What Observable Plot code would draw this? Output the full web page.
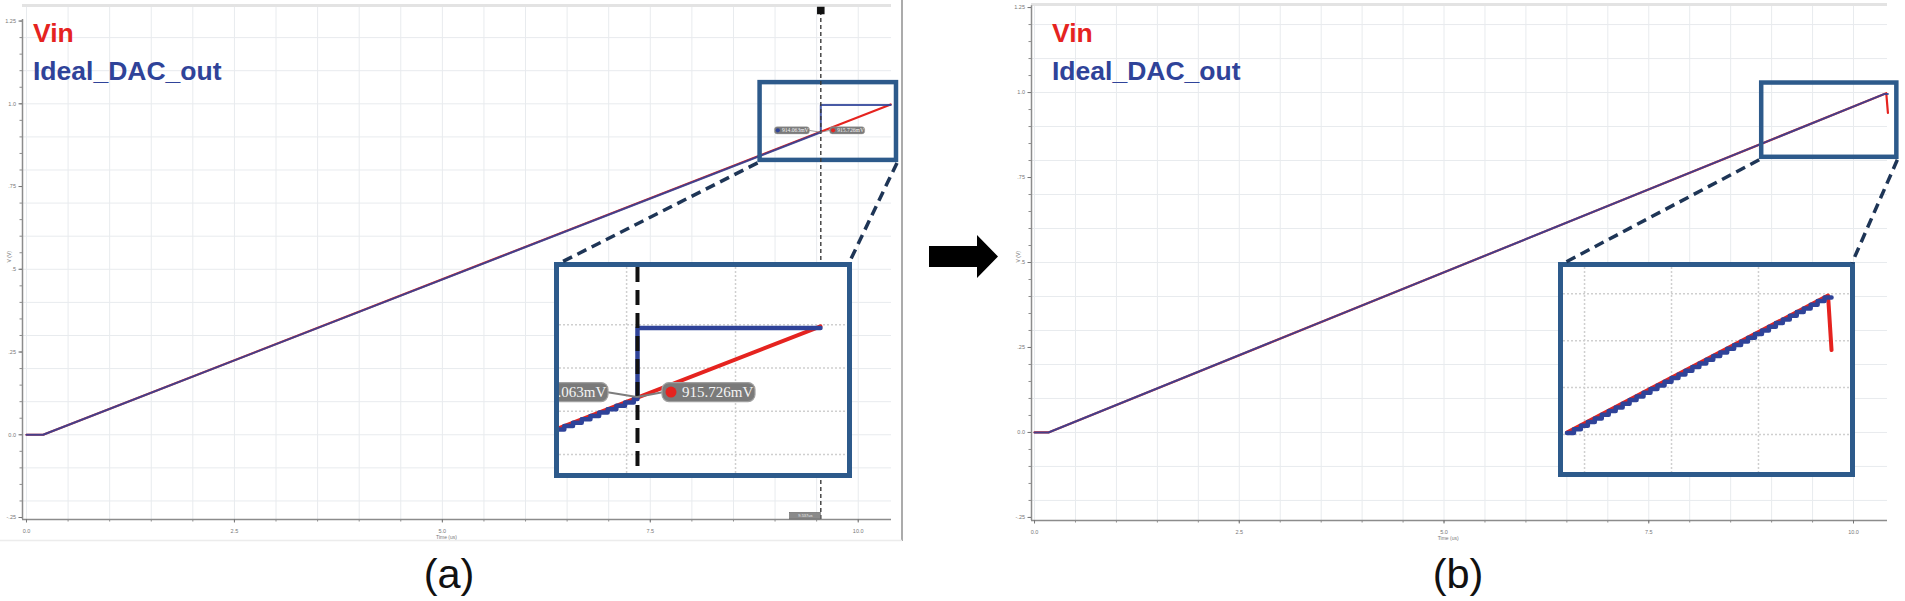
<!DOCTYPE html>
<html>
<head>
<meta charset="utf-8">
<script src="https://cdn.jsdelivr.net/npm/d3@7"></script>
<script src="https://cdn.jsdelivr.net/npm/@observablehq/plot@0.6"></script>
<style>
  html, body { margin: 0; padding: 0; background: #fff; }
  #fig { position: relative; width: 1905px; height: 601px; overflow: hidden; background: #fff;
         font-family: "Liberation Sans", Arial, sans-serif; }
  .inset { position: absolute; box-sizing: border-box; border: 5px solid #2d5a8b; background: #fff; overflow: hidden; }
  .inset svg { display: block; }
</style>
</head>
<body>
<div id="fig"></div>
<script>
// ------------------------------------------------------------------ data
// Panel (a): Vin ramp and ideal DAC output (time in us, value in V)
const aVinT = [0, 0.20, 10.39];
const aVinV = [0, 0, 0.998];
const aDacT = [0, 0.20, 9.55, 9.55, 10.39];
const aDacV = [0, 0, 0.914, 0.996, 0.996];
// Zoomed DAC staircase for inset (a): step start times and 8-bit codes
const aStepT = [9.134, 9.174, 9.214, 9.254, 9.294, 9.334, 9.374, 9.413, 9.453, 9.493, 9.533, 9.55, 10.39];
const aStepCode = [224, 225, 226, 227, 228, 229, 230, 231, 232, 233, 234, 255, 255];
// Cursor in panel (a)
const aCursorT = 9.55;
const aCursorVin = 0.915726;
const aCursorDac = 0.914063;
const aCursorLabels = ["914.063mV", "915.726mV"];
const aCursorTimeLabel = "9.537us";
// Zoom window drawn on panel (a) and the inset's view
const aBoxX = [8.82, 10.46];
const aBoxY = [0.829, 1.064];
const aZoomX = [9.192, 10.514];
const aZoomY = [0.828, 1.066];

// Panel (b)
const bVinT = [0, 0.17, 10.40, 10.42];
const bVinV = [0, 0, 0.998, 0.940];
const bDacT = [0, 0.17, 10.38, 10.42];
const bDacV = [0, 0, 0.996, 0.996];
// Zoomed data for inset (b)
const bZoomVinT = [8.899, 10.40, 10.42];
const bZoomVinV = [0.852, 0.998, 0.940];
const bStepT = [8.899, 8.939, 8.979, 9.019, 9.059, 9.099, 9.139, 9.179, 9.219, 9.259,
                9.299, 9.339, 9.379, 9.419, 9.460, 9.500, 9.540, 9.580, 9.620, 9.660,
                9.700, 9.740, 9.780, 9.820, 9.860, 9.900, 9.940, 9.980, 10.020, 10.060,
                10.100, 10.140, 10.180, 10.220, 10.260, 10.300, 10.340, 10.380, 10.42];
const bStepCode = [218, 219, 220, 221, 222, 223, 224, 225, 226, 227,
                   228, 229, 230, 231, 232, 233, 234, 235, 236, 237,
                   238, 239, 240, 241, 242, 243, 244, 245, 246, 247,
                   248, 249, 250, 251, 252, 253, 254, 255, 255];
const bBoxX = [8.879, 10.529];
const bBoxY = [0.8095, 1.028];

// Axes
const xMajor = [0, 2.5, 5, 7.5, 10];
const xTickLabels = ["0.0", "2.5", "5.0", "7.5", "10.0"];
const yMajor = [-0.25, 0, 0.25, 0.5, 0.75, 1, 1.25];
const yTickLabels = ["-.25", "0.0", ".25", ".5", ".75", "1.0", "1.25"];
const xLabel = "Time (us)";
const yLabel = "V (V)";
const seriesNames = ["Vin", "Ideal_DAC_out"];
const panelCaptions = ["(a)", "(b)"];

// ------------------------------------------------------------------ style
const RED = "#e5231f";
const BLUE = "#2f4399";
const BOX = "#2d5a8b";
const DASHC = "#1e3556";
const AXC = "#8c8c8c";

const toRows = (T, V) => T.map((t, i) => ({t, v: V[i]}));
const xLab = new Map(xMajor.map((d, i) => [d, xTickLabels[i]]));
const yLab = new Map(yMajor.map((d, i) => [d, yTickLabels[i]]));
const xMinor = d3.range(0, 10.001, 0.5);
const yMinor = d3.range(-0.25, 1.2501, 0.05);
const xGrid = d3.range(0, 10.5, 0.5);
const yGrid = d3.range(-0.2, 1.301, 0.1);

const fig = document.getElementById("fig");

function callout(svg, px, py, side, label, dotColor, s) {
  const g = d3.select(svg).append("g").attr("text-anchor", "start");
  const off = (side === "right" ? 25 : 29) * s, bw = 93 * s, bh = 19 * s;
  const x0 = side === "right" ? px + off : px - off - bw;
  const cy = py - 5 * s;
  g.append("path")
    .attr("d", `M${px},${py}L${side === "right" ? x0 + 2 * s : x0 + bw - 2 * s},${cy}`)
    .attr("stroke", "#7d7d7d").attr("stroke-width", 2 * s).attr("fill", "none");
  g.append("rect").attr("x", x0).attr("y", cy - bh / 2).attr("width", bw).attr("height", bh)
    .attr("rx", 7 * s).attr("fill", "#7a7a7a").attr("stroke", "#a0a0a0").attr("stroke-width", 1.2 * s);
  g.append("circle").attr("cx", x0 + 9 * s).attr("cy", cy).attr("r", 5.5 * s).attr("fill", dotColor);
  g.append("text").attr("x", x0 + 20 * s).attr("y", cy).attr("dy", "0.35em")
    .attr("text-anchor", "start")
    .attr("font-family", "'Liberation Serif', 'DejaVu Serif', serif").attr("font-size", 15 * s)
    .attr("fill", "#f4f4f4").text(label);
}

function mainPanel(cfg) {
  const {left, top, width, height, m, xDom, yDom, vin, dac, box, extra} = cfg;
  const chart = Plot.plot({
    width, height,
    marginLeft: m[3], marginRight: m[1], marginTop: m[0], marginBottom: m[2],
    x: {domain: xDom},
    y: {domain: yDom},
    style: {background: "transparent", overflow: "visible", fontFamily: "Liberation Sans, Arial, sans-serif"},
    marks: [
      Plot.gridX({ticks: xGrid, stroke: "#e8ebee", strokeOpacity: 1, strokeWidth: 1}),
      Plot.gridY({ticks: yGrid, stroke: "#e8ebee", strokeOpacity: 1, strokeWidth: 1}),
      Plot.ruleY([yDom[1]], {x1: xDom[0], x2: xDom[1], stroke: "#e3e3e3", strokeWidth: 3}),
      Plot.ruleX([xDom[0]], {y1: yDom[0], y2: 1.255, stroke: AXC, strokeWidth: 1.5}),
      Plot.ruleY([yDom[0]], {x1: xDom[0], x2: xDom[1], stroke: AXC, strokeWidth: 1.5}),
      Plot.axisY({ticks: yMinor, tickFormat: () => "", tickSize: 2.5, stroke: AXC, label: null}),
      Plot.axisY({ticks: yMajor, tickFormat: d => yLab.get(d), tickSize: 3.5, tickPadding: 3,
                  fontSize: 5.5, color: "#777", label: null}),
      Plot.axisX({ticks: xMinor, tickFormat: () => "", tickSize: 2.5, stroke: AXC, label: null}),
      Plot.axisX({ticks: xMajor, tickFormat: d => xLab.get(d), tickSize: 3.5, tickPadding: 6,
                  fontSize: 5.5, color: "#777", label: null}),
      Plot.text([xLabel], {x: 5.05, frameAnchor: "bottom", dy: 19, fontSize: 5, fill: "#777"}),
      Plot.text([yLabel], {frameAnchor: "left", dx: -13, rotate: -90, fontSize: 5, fill: "#777"}),
      ...(extra ? extra.under : []),
      Plot.line(vin, {x: "t", y: "v", stroke: RED, strokeWidth: 2.2}),
      Plot.line(dac, {x: "t", y: "v", stroke: BLUE, strokeWidth: 2, strokeOpacity: 0.88}),
      Plot.rect([box], {x1: "x1", x2: "x2", y1: "y1", y2: "y2", fill: "none", stroke: BOX, strokeWidth: 4.5}),
      ...(extra ? extra.over : [])
    ]
  });
  chart.style.position = "absolute";
  chart.style.left = left + "px";
  chart.style.top = top + "px";
  fig.appendChild(chart);
  return chart;
}

function insetPanel(cfg) {
  const {left, top, width, height, xDom, yDom, vin, steps, gx, gy, extra} = cfg;
  const div = document.createElement("div");
  div.className = "inset";
  div.style.left = left + "px";
  div.style.top = top + "px";
  div.style.width = width + "px";
  div.style.height = height + "px";
  const iw = width - 10, ih = height - 10;
  const chart = Plot.plot({
    width: iw, height: ih, margin: 0,
    x: {domain: xDom, axis: null}, y: {domain: yDom, axis: null},
    style: {background: "#fff", overflow: "hidden"},
    marks: [
      Plot.gridX({ticks: gx, stroke: "#cfcfcf", strokeOpacity: 1, strokeWidth: 1.5, strokeDasharray: "2,2"}),
      Plot.gridY({ticks: gy, stroke: "#cfcfcf", strokeOpacity: 1, strokeWidth: 1.5, strokeDasharray: "2,2"}),
      ...(extra ? extra.under : []),
      Plot.line(vin, {x: "t", y: "v", stroke: RED, strokeWidth: 4, clip: true}),
      Plot.line(steps, {x: "t", y: "v", curve: "step-after", stroke: BLUE, strokeWidth: 4.5, clip: true}),
      ...(extra ? extra.over : [])
    ]
  });
  div.appendChild(chart);
  fig.appendChild(div);
  return {div, chart, left, top, width, height};
}

// ------------------------------------------------------------------ panel (a)
const aMain = mainPanel({
  left: 0, top: 0, width: 905, height: 560, m: [5, 14, 41, 22],
  xDom: [-0.048, 10.40], yDom: [-0.256, 1.297],
  vin: toRows(aVinT, aVinV), dac: toRows(aDacT, aDacV),
  box: {x1: aBoxX[0], x2: aBoxX[1], y1: aBoxY[0], y2: aBoxY[1]},
  extra: {
    under: [],
    over: [
      Plot.ruleX([aCursorT], {y1: -0.256, y2: 1.28, stroke: "#3a3a3a", strokeWidth: 1.4, strokeDasharray: "4,3"}),
      Plot.dot([aCursorT], {x: d => d, y: 1.282, symbol: "square", r: 3.4, fill: "#111", stroke: "#111"}),
      Plot.rect([aCursorT], {x1: d => d - 0.37, x2: d => d, y1: -0.256, y2: -0.236, fill: "#8a8a8a", stroke: "#666", strokeWidth: 0.6}),
      Plot.text([aCursorTimeLabel], {x: aCursorT - 0.185, y: -0.246, fontSize: 4, fill: "#eee"})
    ]
  }
});
{
  const sx = aMain.scale("x"), sy = aMain.scale("y");
  const px = sx.apply(aCursorT), py = sy.apply(aCursorVin);
  callout(aMain, px, py + 1, "left", aCursorLabels[0], BLUE, 0.376);
  callout(aMain, px, py + 1, "right", aCursorLabels[1], RED, 0.376);
}
const aInset = insetPanel({
  left: 554, top: 262, width: 298, height: 216,
  xDom: aZoomX, yDom: aZoomY,
  vin: toRows(aVinT, aVinV),
  steps: aStepT.map((t, i) => ({t, v: aStepCode[i] / 256})),
  gx: [9.5, 10.0], gy: [0.85, 0.9, 0.95, 1.0],
  extra: {
    under: [],
    over: [Plot.ruleX([aCursorT], {stroke: "#111", strokeWidth: 4, strokeDasharray: "15,8"})]
  }
});
{
  const sx = aInset.chart.scale("x"), sy = aInset.chart.scale("y");
  const px = sx.apply(aCursorT), py = sy.apply(aCursorVin);
  callout(aInset.chart, px, py, "left", aCursorLabels[0], BLUE, 1);
  callout(aInset.chart, px, py, "right", aCursorLabels[1], RED, 1);
}

// ------------------------------------------------------------------ panel (b)
const bMain = mainPanel({
  left: 1000, top: 0, width: 905, height: 560, m: [4, 18, 40, 31],
  xDom: [-0.037, 10.415], yDom: [-0.259, 1.259],
  vin: toRows(bVinT, bVinV), dac: toRows(bDacT, bDacV),
  box: {x1: bBoxX[0], x2: bBoxX[1], y1: bBoxY[0], y2: bBoxY[1]}
});
const bInset = insetPanel({
  left: 1558, top: 262, width: 297, height: 215,
  xDom: bBoxX, yDom: bBoxY,
  vin: toRows(bZoomVinT, bZoomVinV),
  steps: bStepT.map((t, i) => ({t, v: bStepCode[i] / 256})),
  gx: [9.0, 9.5, 10.0], gy: [0.85, 0.9, 0.95, 1.0]
});

// ------------------------------------------------------------------ overlay
const ov = d3.select(fig).append("svg")
  .attr("width", 1905).attr("height", 601)
  .style("position", "absolute").style("left", "0px").style("top", "0px")
  .style("pointer-events", "none")
  .attr("font-family", "'Liberation Sans', Arial, sans-serif");

// panel (a) frame lines
ov.append("line").attr("x1", 902).attr("x2", 902).attr("y1", 0).attr("y2", 541)
  .attr("stroke", "#8f8f8f").attr("stroke-width", 1.5);
ov.append("line").attr("x1", 0).attr("x2", 902).attr("y1", 540.5).attr("y2", 540.5)
  .attr("stroke", "#ececec").attr("stroke-width", 1.5);

function connectors(mainChart, mainLeft, mainTop, box, inset) {
  const sx = mainChart.scale("x"), sy = mainChart.scale("y");
  const bx1 = mainLeft + sx.apply(box.x1) - 2, bx2 = mainLeft + sx.apply(box.x2) + 1;
  const by = mainTop + sy.apply(box.y1) + 3;
  ov.append("line").attr("x1", bx1).attr("y1", by).attr("x2", inset.left + 6).attr("y2", inset.top + 1)
    .attr("stroke", DASHC).attr("stroke-width", 3.5).attr("stroke-dasharray", "10,6");
  ov.append("line").attr("x1", bx2).attr("y1", by).attr("x2", inset.left + inset.width - 3).attr("y2", inset.top + 1)
    .attr("stroke", DASHC).attr("stroke-width", 3.5).attr("stroke-dasharray", "10,6");
}
connectors(aMain, 0, 0, {x1: aBoxX[0], x2: aBoxX[1], y1: aBoxY[0]}, aInset);
connectors(bMain, 1000, 0, {x1: bBoxX[0], x2: bBoxX[1], y1: bBoxY[0]}, bInset);

// arrow between panels
ov.append("polygon")
  .attr("points", "929,246 977,246 977,235 998,256.5 977,278 977,267 929,267")
  .attr("fill", "#000");

// legends
[33, 1052].forEach(x => {
  ov.append("text").attr("x", x).attr("y", 42).attr("font-size", 26.5).attr("font-weight", "bold")
    .attr("fill", RED).text(seriesNames[0]);
  ov.append("text").attr("x", x).attr("y", 80).attr("font-size", 26.5).attr("font-weight", "bold")
    .attr("fill", BLUE).text(seriesNames[1]);
});

// captions
ov.append("text").attr("x", 449).attr("y", 588).attr("text-anchor", "middle")
  .attr("font-size", 41.5).attr("fill", "#111").text(panelCaptions[0]);
ov.append("text").attr("x", 1458).attr("y", 588).attr("text-anchor", "middle")
  .attr("font-size", 41.5).attr("fill", "#111").text(panelCaptions[1]);
</script>
</body>
</html>
